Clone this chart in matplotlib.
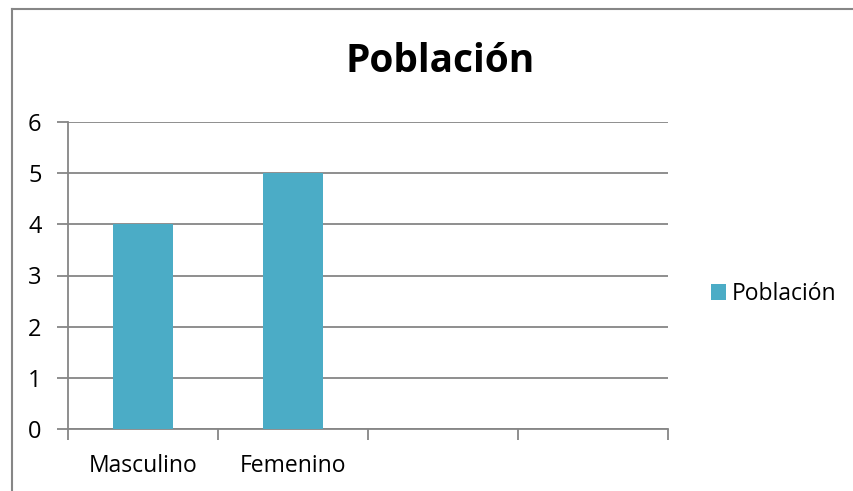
import matplotlib.pyplot as plt
from matplotlib.lines import Line2D

# Datos del gráfico
categorias = ["Masculino", "Femenino", "", ""]
poblacion = [4, 5, 0, 0]
titulo = "Población"

color_barra = "#4BACC6"
gris = "#868686"

plt.rcParams['font.family'] = ['Open Sans', 'DejaVu Sans']

fig = plt.figure(figsize=(8.54, 4.91), dpi=100)
ax = fig.add_axes([68 / 854, 1 - 429 / 491, 600 / 854, 307 / 491])

x = list(range(len(categorias)))
barras = ax.bar(x, poblacion, width=0.4, color=color_barra, label=titulo, zorder=3)

ax.set_xlim(-0.5, len(categorias) - 0.5)
ax.set_ylim(0, 6)
ax.set_yticks(range(0, 7))
ax.yaxis.grid(True, color=gris, linewidth=1.3, zorder=0)

# ticks de categoría en los límites
ax.set_xticks([i - 0.5 for i in range(len(categorias) + 1)])
ax.set_xticklabels([])
ax.set_xticks(x, minor=True)
ax.set_xticklabels(categorias, minor=True)
ax.tick_params(axis='x', which='minor', length=0, pad=18, labelsize=16.5)
ax.tick_params(axis='x', which='major', length=8, width=1.3, color=gris, direction='out')
ax.tick_params(axis='y', length=8, width=1.3, color=gris, labelsize=17, pad=11)

for lado in ['top', 'right']:
    ax.spines[lado].set_visible(False)
for lado in ['left', 'bottom']:
    ax.spines[lado].set_color(gris)
    ax.spines[lado].set_linewidth(1.3)

fig.text(440 / 854, 1 - 62 / 491, titulo, ha='center', va='center',
         fontsize=28, fontweight='bold')

fig.legend(handles=[barras], labels=[titulo], loc='center left',
           bbox_to_anchor=(711 / 854, 1 - 294 / 491), frameon=False, borderpad=0,
           borderaxespad=0, fontsize=16.5, handlelength=0.65, handleheight=0.65,
           handletextpad=0.25)

# marco del gráfico
fig.add_artist(Line2D([12 / 854, 12 / 854], [0, 1 - 9 / 491], color=gris, linewidth=1.5))
fig.add_artist(Line2D([12 / 854, 1], [1 - 9 / 491, 1 - 9 / 491], color=gris, linewidth=1.5))

fig.savefig("out.png", dpi=100)
